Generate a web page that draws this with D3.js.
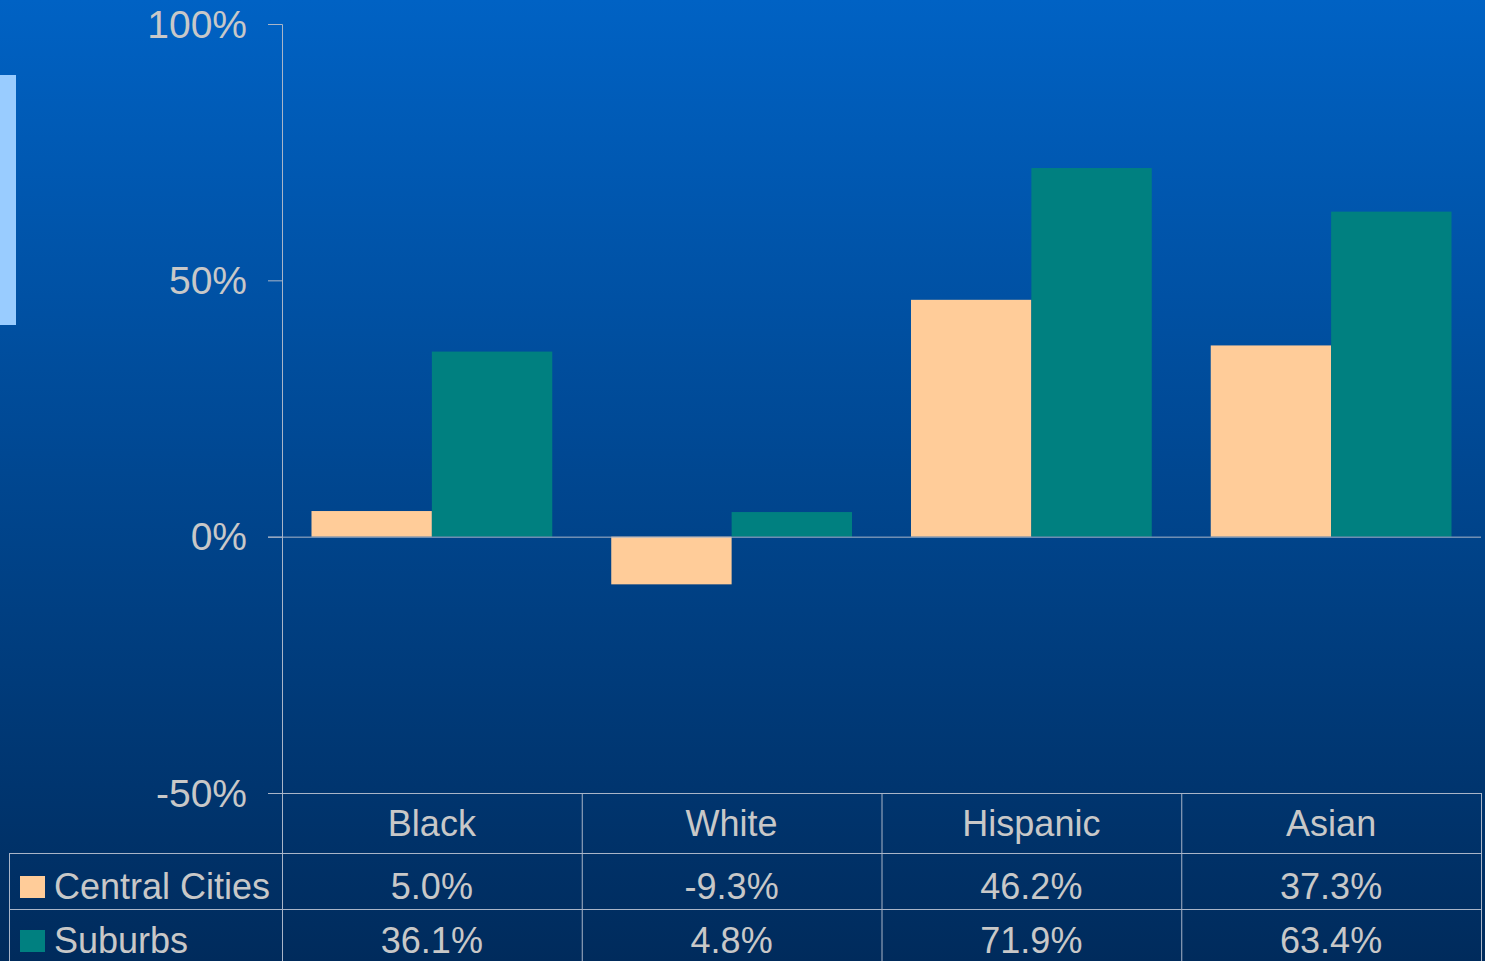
<!DOCTYPE html>
<html><head><meta charset="utf-8">
<script src="https://cdn.jsdelivr.net/npm/d3@7"></script>
<style>html,body{margin:0;padding:0;overflow:hidden;background:#003060}</style>
</head><body>
<svg id="c" width="1485" height="961"></svg>
<script>
const categories = ["Black", "White", "Hispanic", "Asian"];
const seriesNames = ["Central Cities", "Suburbs"];
const centralCities = [5.0, -9.3, 46.2, 37.3];
const suburbs = [36.1, 4.8, 71.9, 63.4];
const yTicks = [-50, 0, 50, 100];
const seriesColors = ["#ffcc99", "#008080"];
const seriesValues = [centralCities, suburbs];

const W = 1485, H = 961;
const svg = d3.select("#c");
const font = "'Liberation Sans', Arial, sans-serif";
const textColor = "#c8c8c8";
const lineColor = "#a9b5c8";

const defs = svg.append("defs");
const grad = defs.append("linearGradient").attr("id","bg").attr("x1",0).attr("y1",0).attr("x2",0).attr("y2",1);
grad.append("stop").attr("offset","0%").attr("stop-color","#0062c4");
grad.append("stop").attr("offset","100%").attr("stop-color","#002b5c");
svg.append("rect").attr("width",W).attr("height",H).attr("fill","url(#bg)");

// decorative light-blue bar on left
svg.append("rect").attr("x",0).attr("y",75).attr("width",16).attr("height",250).attr("fill","#99ccff");

const plotLeft = 282, plotRight = 1481, plotTop = 24, plotBottom = 793;
const y = d3.scaleLinear().domain([-50, 100]).range([plotBottom, plotTop]);
const x0 = d3.scaleBand().domain(categories).range([plotLeft, plotRight]).padding(0);
const x1 = d3.scaleBand().domain(seriesNames).range([0, x0.bandwidth()]).paddingInner(0).paddingOuter(0.245);

// y axis
const yAxis = d3.axisLeft(y).tickValues(yTicks).tickFormat(d => d + "%").tickSize(14).tickPadding(21);
const ga = svg.append("g").attr("transform", `translate(${plotLeft},0)`).call(yAxis);
ga.select(".domain").attr("stroke", lineColor).attr("d", `M-14,${y(100)+0.5}H0.5V${y(-50)}`);
ga.selectAll(".tick line").attr("stroke", lineColor);
ga.selectAll(".tick text").attr("fill", textColor).attr("font-family", font).attr("font-size", 39).attr("dy","0.34em");

// bars
const groups = svg.append("g").selectAll("g").data(categories).join("g")
  .attr("transform", d => `translate(${x0(d)},0)`);
groups.selectAll("rect").data((c, i) => seriesNames.map((s, k) => ({s, v: seriesValues[k][i], k})))
  .join("rect")
  .attr("x", d => x1(d.s))
  .attr("width", x1.bandwidth())
  .attr("y", d => y(Math.max(0, d.v)))
  .attr("height", d => Math.abs(y(d.v) - y(0)))
  .attr("fill", d => seriesColors[d.k]);

// zero line
svg.append("line").attr("x1", plotLeft - 14).attr("x2", plotRight).attr("y1", y(0)+0.5).attr("y2", y(0)+0.5)
  .attr("stroke", lineColor).attr("stroke-width", 1);

// data table
const rowTops = [plotBottom, 853, 909, 975];
const tableLeft = 9;
const tg = svg.append("g");
tg.append("line").attr("x1", plotLeft - 14).attr("x2", plotRight).attr("y1", rowTops[0]+0.5).attr("y2", rowTops[0]+0.5).attr("stroke", lineColor);
[rowTops[1], rowTops[2]].forEach(yy => tg.append("line").attr("x1", tableLeft).attr("x2", plotRight).attr("y1", yy+0.5).attr("y2", yy+0.5).attr("stroke", lineColor));
tg.append("line").attr("x1", tableLeft+0.5).attr("x2", tableLeft+0.5).attr("y1", rowTops[1]).attr("y2", H).attr("stroke", lineColor);
categories.forEach(c => tg.append("line").attr("x1", x0(c)+x0.bandwidth()+0.5).attr("x2", x0(c)+x0.bandwidth()+0.5).attr("y1", rowTops[0]).attr("y2", H).attr("stroke", lineColor));
tg.append("line").attr("x1", plotLeft+0.5).attr("x2", plotLeft+0.5).attr("y1", rowTops[0]).attr("y2", H).attr("stroke", lineColor);

const fs = 36;
tg.selectAll("text.cat").data(categories).join("text").attr("class","cat")
  .attr("x", d => x0(d) + x0.bandwidth()/2).attr("y", (rowTops[0]+rowTops[1])/2 + 1)
  .attr("dy","0.34em").attr("text-anchor","middle").attr("fill", textColor)
  .attr("font-family", font).attr("font-size", fs).text(d => d);

const rowCenters = [(rowTops[1]+rowTops[2])/2 + 6, 941];
seriesNames.forEach((s, k) => {
  tg.append("rect").attr("x", 20).attr("y", rowCenters[k] - 11).attr("width", 25).attr("height", 22).attr("fill", seriesColors[k]);
  tg.append("text").attr("x", 54).attr("y", rowCenters[k]).attr("dy","0.34em").attr("fill", textColor)
    .attr("font-family", font).attr("font-size", fs).text(s);
  tg.selectAll(null).data(categories).join("text")
    .attr("x", d => x0(d) + x0.bandwidth()/2).attr("y", rowCenters[k]).attr("dy","0.34em")
    .attr("text-anchor","middle").attr("fill", textColor).attr("font-family", font).attr("font-size", fs)
    .text((d, i) => seriesValues[k][i].toFixed(1) + "%");
});
</script>
</body></html>
